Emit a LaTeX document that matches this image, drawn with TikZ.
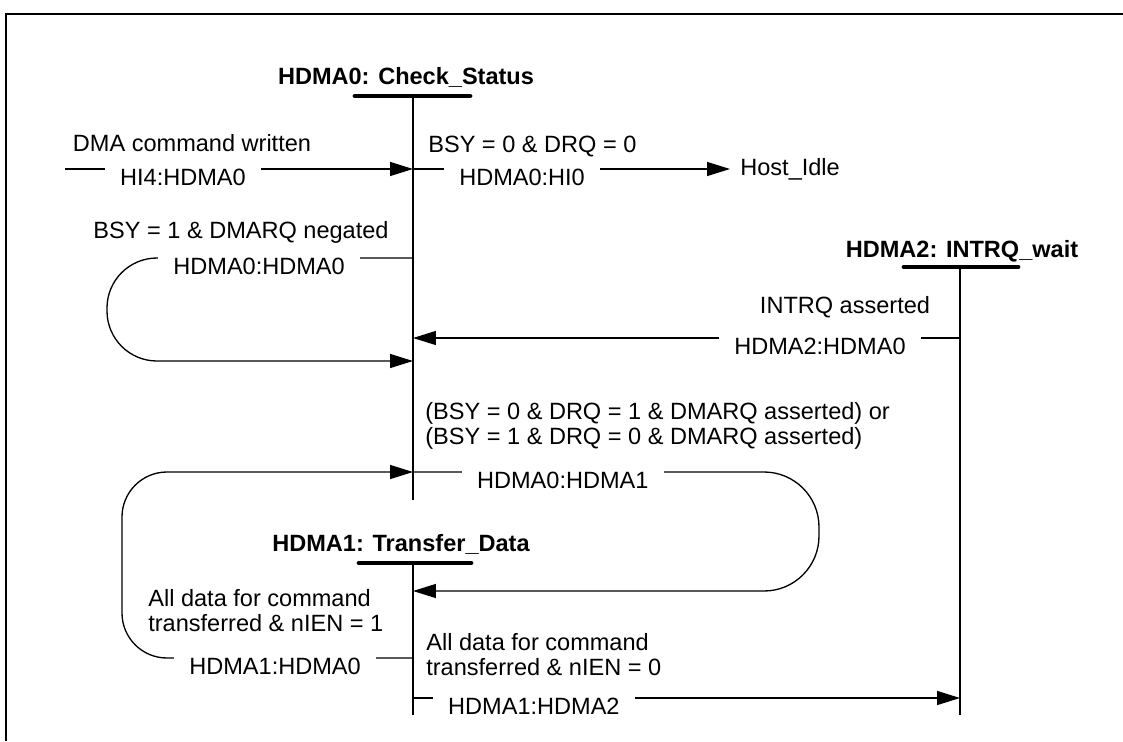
\documentclass[tikz,border=0pt]{standalone}
\usepackage{fontspec}
\setmainfont{Liberation Sans}
\usepackage{tikz}
\usetikzlibrary{positioning}
\usetikzlibrary{arrows.meta}
\newcommand{\dgmfont}{\fontsize{13.4pt}{14.2pt}\selectfont}
\tikzstyle{statename} = [anchor=base, 
    inner sep=0pt, 
    font=\dgmfont\bfseries]
\tikzstyle{cond} = [anchor=base, inner sep=0pt]
\tikzstyle{condblock} = [anchor=north west, 
    inner sep=0pt, 
    align=left]
\tikzstyle{lbl} = [fill=white, 
    sharp corners, 
    anchor=base, 
    inner xsep=0.3cm, 
    inner ysep=2pt, 
    yshift=-0.32cm]
\tikzstyle{arrow} = [line width=0.75pt,-{Triangle[length=0.46cm,width=0.28cm]}]
\tikzstyle{bar} = [line width=2.8pt, line cap=round]
\tikzstyle{life} = [line width=0.9pt]

\begin{document}
\begin{tikzpicture}[x=0.02cm, y=-0.02cm, font=\dgmfont]

\useasboundingbox (0,0) rectangle (1123,741);
\draw [line width=1.7pt] (6,741) -- (6,14) -- (1123,14);

\node (checkStatus) [statename] at (406,84) {HDMA0: Check\_Status};
\node (transferData) [statename] at (401,551) {HDMA1: Transfer\_Data};
\node (intrqWait) [statename] at (962,257) {HDMA2: INTRQ\_wait};

\draw [bar] (355,96) -- (470,96);
\draw [bar] (359,563) -- (471,563);
\draw [bar] (904,267) -- (1018,267);

\draw [life] (413,96) -- (413,500);
\draw [life] (413,563) -- (413,715);
\draw [life] (960,267) -- (960,715);

\node (hostIdle) [anchor=west, inner xsep=0.2cm, inner ysep=0pt] at (730,169) {Host\_Idle};

\node (dmaWritten) [cond] at (192,151) {DMA command written};
\node (bsyZero) [cond, anchor=base west] at (428,152) {BSY = 0 \& DRQ = 0};
\node (bsyNegated) [cond] at (241,238) {BSY = 1 \& DMARQ negated};
\node (intrqAsserted) [cond] at (845,313) {INTRQ asserted};
\node (dmarqAsserted) [condblock] at (425,402) {(BSY = 0 \& DRQ = 1 \& DMARQ asserted) or\\(BSY = 1 \& DRQ = 0 \& DMARQ asserted)};
\node (nienOne) [condblock] at (148,589) {All data for command\\transferred \& nIEN = 1};
\node (nienZero) [condblock] at (426,633) {All data for command\\transferred \& nIEN = 0};

\coordinate (dmaStart) at (65,169);
\coordinate (hdmaZeroIn) at (413,169);
\coordinate (loopOut) at (413,258);
\coordinate (loopIn) at (413,361);
\coordinate (intrqIn) at (413,338);
\coordinate (intrqOut) at (960,338);
\coordinate (xferOut) at (413,472);
\coordinate (xferIn) at (413,591);
\coordinate (backOut) at (413,658);
\coordinate (doneOut) at (413,698);
\coordinate (doneIn) at (960,698);

\draw [arrow] (dmaStart) -- node[lbl, pos=0.339] {HI4:HDMA0} (hdmaZeroIn);
\draw [arrow] (hdmaZeroIn) -- node[lbl, pos=0.344] {HDMA0:HI0} (hostIdle);
\draw [arrow, rounded corners=1cm] (loopOut) -- node[lbl, pos=0.503] {HDMA0:HDMA0} (107,258) -- (107,361) -- (loopIn);
\draw [arrow] (intrqOut) -- node[lbl, pos=0.256] {HDMA2:HDMA0} (intrqIn);
\draw [arrow, rounded corners=1.1cm] (xferOut) -- node[lbl, pos=0.369] {HDMA0:HDMA1} (819,472) -- (819,591) -- (xferIn);
\draw [arrow, rounded corners=0.9cm] (backOut) -- node[lbl, pos=0.474] {HDMA1:HDMA0} (122,658) -- (122,472) -- (xferOut);
\draw [arrow] (doneOut) -- node[lbl, pos=0.221] {HDMA1:HDMA2} (doneIn);

\end{tikzpicture}
\end{document}
